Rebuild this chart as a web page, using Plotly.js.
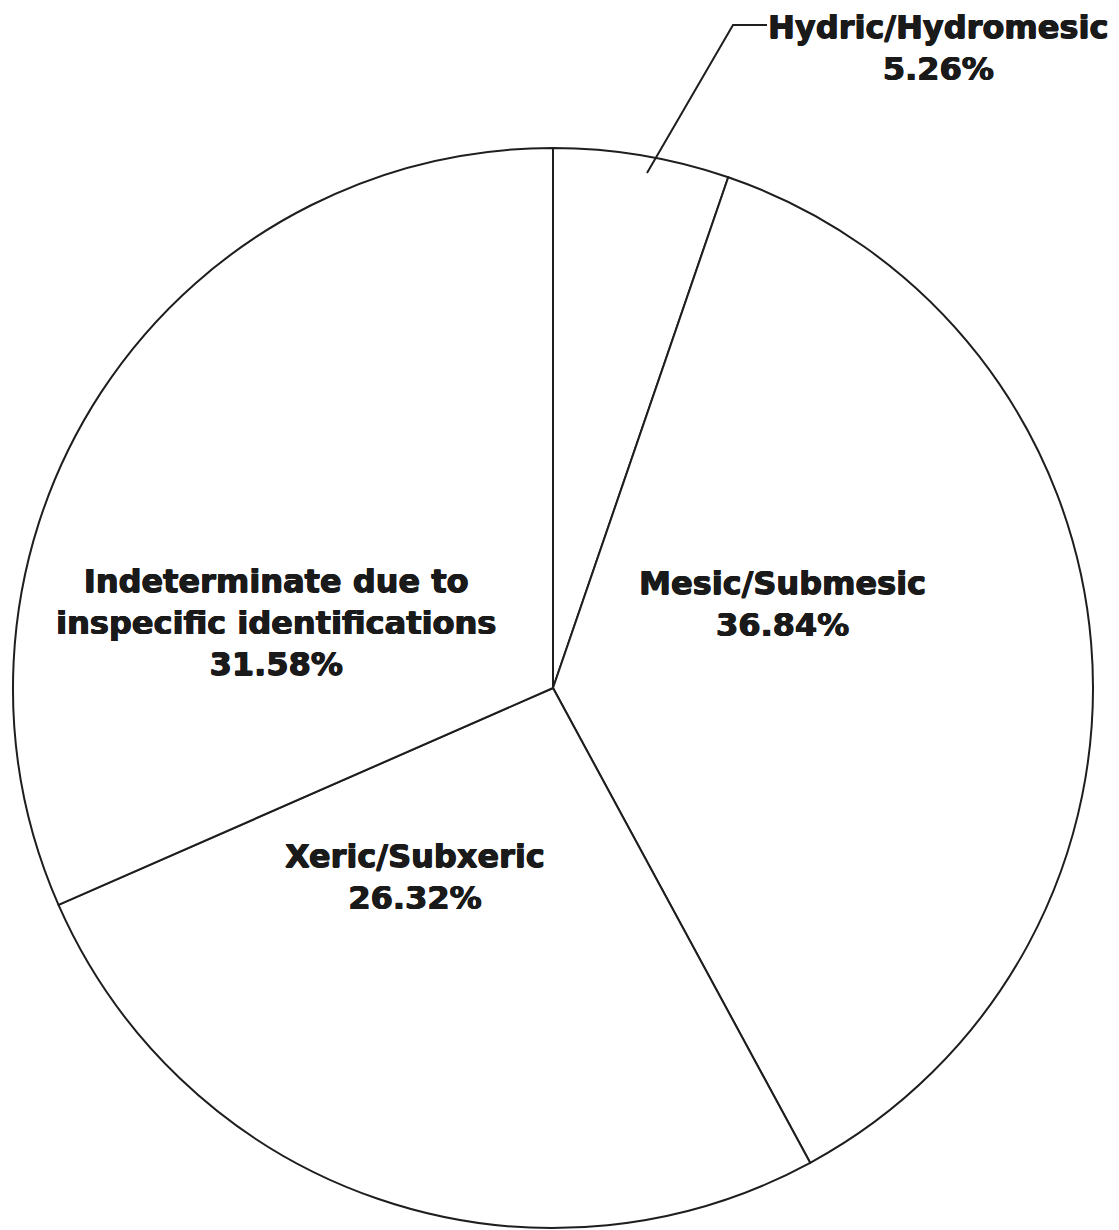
<!DOCTYPE html>
<html>
<head>
<meta charset="utf-8">
<script src="https://cdn.plot.ly/plotly-3.0.1.min.js"></script>
<style>html,body{margin:0;padding:0;background:#fff;}#chart{width:1119px;height:1230px;}</style>
</head>
<body>
<div id="chart"></div>
<script>
// Data
const categories = ['Hydric/Hydromesic', 'Mesic/Submesic', 'Xeric/Subxeric', 'Indeterminate due to<br>inspecific identifications'];
const percents = [5.26, 36.84, 26.32, 31.58];

// Label positions (pixels) – layout only
const W = 1119, H = 1230;
const labelPos = [[938, 48], [782, 604], [415, 877], [276, 622]];
const px = x => x / W;
const py = y => 1 - y / H;

const cx = 553, cy = 688, R = 540;

const trace = {
  type: 'pie',
  labels: categories,
  values: percents,
  sort: false,
  direction: 'clockwise',
  rotation: 0,
  textinfo: 'none',
  hoverinfo: 'label+value',
  marker: {colors: categories.map(() => '#ffffff'), line: {color: '#1e1e1e', width: 2}},
  domain: {x: [px(cx - R), px(cx + R)], y: [py(cy + R), py(cy - R)]},
  showlegend: false
};

const annotations = categories.map((c, i) => ({
  xref: 'paper', yref: 'paper',
  x: px(labelPos[i][0]), y: py(labelPos[i][1]),
  xanchor: 'center', yanchor: 'middle',
  text: '<b>' + c + '<br>' + percents[i].toFixed(2) + '%</b>',
  showarrow: false,
  align: 'center',
  font: {family: 'DejaVu Sans, Liberation Sans, Arial', size: 32, color: '#1a1a1a',
         shadow: '0.8px 0 0 #1a1a1a, -0.4px 0 0 #1a1a1a, 0 0.6px 0 #1a1a1a'}
}));

const lp = [[647, 173], [733, 25], [767, 25]];
const path = 'M ' + lp.map(p => px(p[0]) + ',' + py(p[1])).join(' L ');

const layout = {
  width: W, height: H,
  margin: {l: 0, r: 0, t: 0, b: 0},
  paper_bgcolor: '#ffffff',
  plot_bgcolor: '#ffffff',
  annotations: annotations,
  shapes: [{type: 'path', xref: 'paper', yref: 'paper', path: path, line: {color: '#1e1e1e', width: 2}}]
};

Plotly.newPlot('chart', [trace], layout, {staticPlot: true});
</script>
</body>
</html>
